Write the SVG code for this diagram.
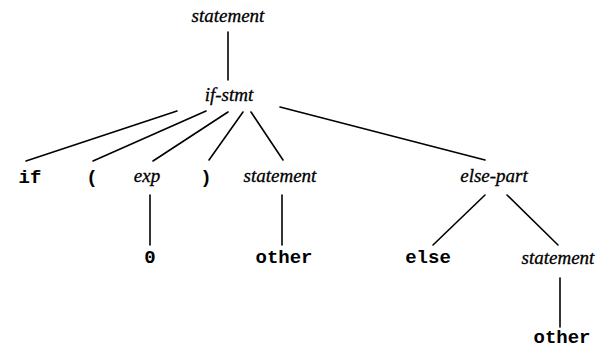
<svg xmlns="http://www.w3.org/2000/svg" width="597" height="350" viewBox="0 0 597 350">
<style>
.nt{font-family:"Liberation Serif",serif;font-style:italic;font-size:19px;fill:#000;stroke:#000;stroke-width:0.3;text-anchor:middle}
.t{font-family:"Liberation Mono",monospace;font-weight:bold;font-size:19px;fill:#000;text-anchor:middle}
.e{stroke:#000;stroke-width:1.6;fill:none;stroke-linecap:round}
</style>
<rect width="597" height="350" fill="#fff"/>
<g id="connectors">
<line class="e" x1="228" y1="32" x2="228" y2="80"/>
<line class="e" x1="177" y1="111" x2="26" y2="161"/>
<line class="e" x1="206" y1="111" x2="93" y2="161"/>
<line class="e" x1="228" y1="112" x2="153" y2="161"/>
<line class="e" x1="243" y1="112" x2="209" y2="160"/>
<line class="e" x1="251" y1="112" x2="283" y2="160"/>
<line class="e" x1="280" y1="107" x2="485" y2="160"/>
<line class="e" x1="150" y1="195" x2="150" y2="245"/>
<line class="e" x1="282" y1="195" x2="282" y2="245"/>
<line class="e" x1="485" y1="195" x2="433" y2="245"/>
<line class="e" x1="507" y1="195" x2="558" y2="245"/>
<line class="e" x1="560" y1="278" x2="560" y2="327"/>
</g>
<g id="n-statement-root"><text class="nt" x="228" y="22">statement</text></g>
<g id="n-if-stmt"><text class="nt" x="229" y="101">if-stmt</text></g>
<g id="n-if"><text class="t" x="30" y="183">if</text></g>
<g id="n-lparen"><text class="t" x="92" y="183">(</text></g>
<g id="n-exp"><text class="nt" x="147" y="182">exp</text></g>
<g id="n-rparen"><text class="t" x="206" y="183">)</text></g>
<g id="n-statement-1"><text class="nt" x="280" y="182">statement</text></g>
<g id="n-else-part"><text class="nt" x="494" y="182">else-part</text></g>
<g id="n-zero"><text class="t" x="150" y="263">0</text></g>
<g id="n-other-1"><text class="t" x="284" y="263">other</text></g>
<g id="n-else"><text class="t" x="428" y="263">else</text></g>
<g id="n-statement-2"><text class="nt" x="558" y="264">statement</text></g>
<g id="n-other-2"><text class="t" x="562" y="343">other</text></g>
</svg>
